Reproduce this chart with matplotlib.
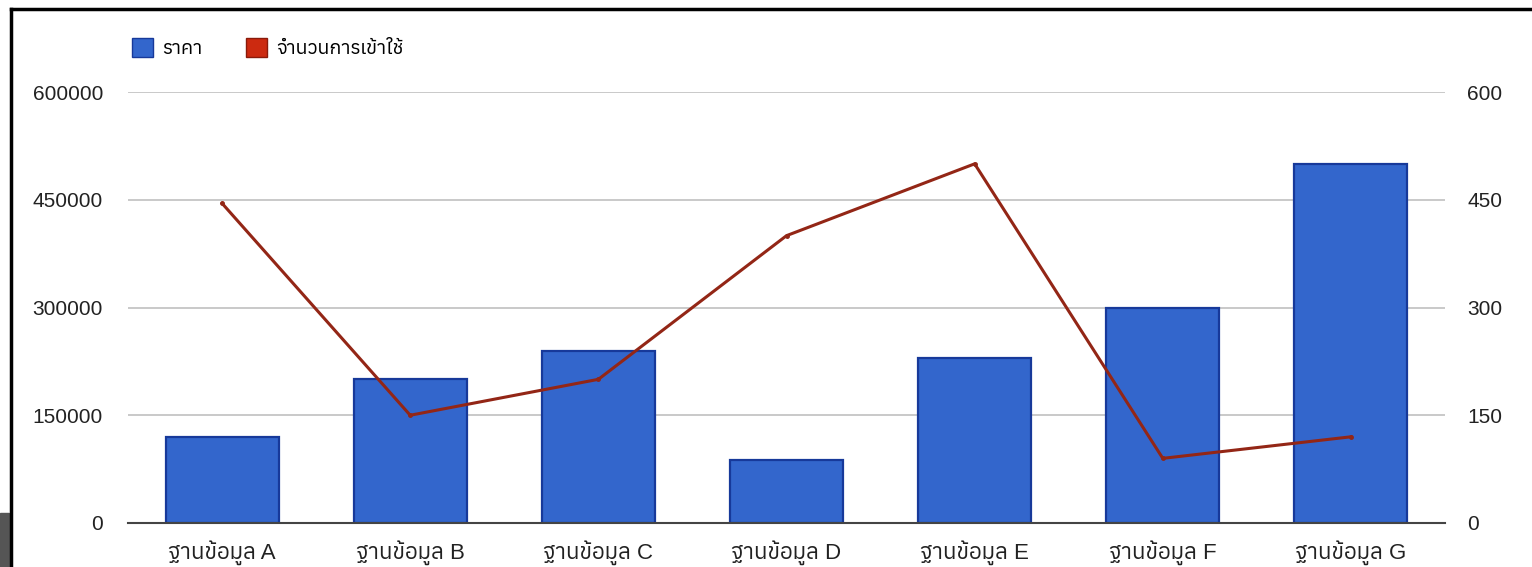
import matplotlib
matplotlib.use("Agg")
import matplotlib.pyplot as plt
import matplotlib.patches as mpatches
from matplotlib import font_manager as fm
from fontTools.ttLib import TTFont

categories = ["ฐานข้อมูล A", "ฐานข้อมูล B", "ฐานข้อมูล C", "ฐานข้อมูล D",
              "ฐานข้อมูล E", "ฐานข้อมูล F", "ฐานข้อมูล G"]
price = [120000, 200000, 240000, 88000, 230000, 300000, 500000]
visits = [445, 150, 200, 400, 500, 90, 120]
left_ticks = [0, 150000, 300000, 450000, 600000]
right_ticks = [0, 150, 300, 450, 600]
series_names = ["ราคา", "จำนวนการเข้าใช้"]

# find some installed font that has thai glyphs
thai_fonts = []
for f in fm.findSystemFonts():
    try:
        t = TTFont(f, fontNumber=0, lazy=True)
        cmap = t.getBestCmap()
        if cmap and 0x0E32 in cmap:
            thai_fonts.append(fm.FontProperties(fname=f).get_name())
    except Exception:
        pass
thai_fonts = sorted(set(thai_fonts))
fams = ["Liberation Sans"] + thai_fonts + ["DejaVu Sans"]
plt.rcParams["font.family"] = fams

fig = plt.figure(figsize=(15.32, 5.67), dpi=100)
ax = fig.add_axes([128/1532, 1-523/567, 1317/1532, 431/567])
ax2 = ax.twinx()

x = list(range(len(categories)))
ax.bar(x, price, width=0.6, color="#3366cc", edgecolor="#17399a", linewidth=1.6, zorder=2)
ax2.plot(x, visits, color="#932616", lw=2.2, marker="o", ms=2.5, zorder=3)

ax.set_xlim(-0.5, 6.5)
ax.set_ylim(0, 600000)
ax2.set_ylim(0, 600)
ax.set_yticks(left_ticks)
ax2.set_yticks(right_ticks)
ax.set_xticks(x)
ax.set_xticklabels(categories)
ax.grid(axis="y", color="#c0c0c0", lw=1.2, zorder=0)
ax.set_axisbelow(True)
for a in (ax, ax2):
    for s in a.spines.values():
        s.set_visible(False)
    a.tick_params(length=0, labelsize=15, colors="#222222")
ax.tick_params(axis="y", pad=18)
ax2.tick_params(axis="y", pad=16)
ax.tick_params(axis="x", pad=12, labelsize=16)
ax.spines["bottom"].set_visible(True)
ax.spines["bottom"].set_color("#444444")
ax.spines["bottom"].set_linewidth(1.5)

# legend
h = [mpatches.Patch(facecolor="#3366cc", edgecolor="#17399a"),
     mpatches.Patch(facecolor="#cc2a10", edgecolor="#8a1a0a")]
fig.legend(h, series_names, loc="upper left", bbox_to_anchor=(114/1532, 1-21/567),
           ncol=2, frameon=False, prop={"size": 14, "weight": "bold"},
           handlelength=1.1, handleheight=1.1, columnspacing=2.2, handletextpad=0.5)

# screenshot frame bits
fig.add_artist(plt.Line2D([11/1532, 1], [1-9/567, 1-9/567], color="black", lw=2.5))
fig.add_artist(plt.Line2D([11/1532, 11/1532], [0, 1-9/567], color="black", lw=2.5))
fig.add_artist(mpatches.Rectangle((0, 0), 9/1532, 54/567, color="#555555", transform=fig.transFigure))

fig.savefig("out.png", dpi=100)
